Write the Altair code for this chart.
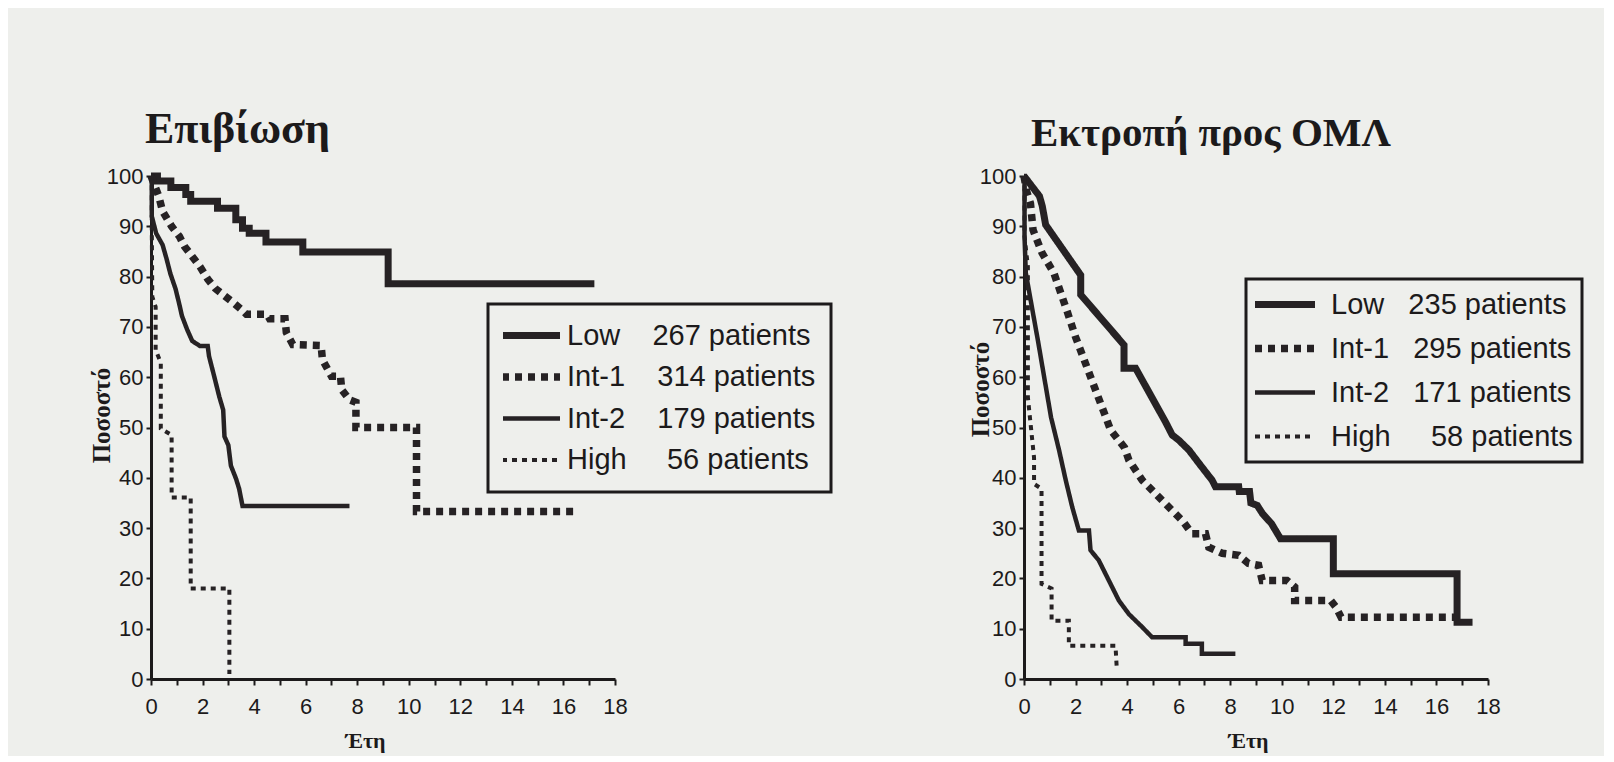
import altair as alt
import pandas as pd

SERIES = ["Low", "Int-1", "Int-2", "High"]

# ---------------- Επιβίωση (survival) ----------------
surv_titles = ["Επιβίωση"]
surv_counts = [267, 314, 179, 56]
surv_low_t = [0, 0.25, 0.25, 0.77, 0.77, 1.35, 1.35, 1.54, 1.54, 2.58, 2.58, 3.29, 3.29, 3.55, 3.55, 3.81, 3.81, 4.46, 4.46, 5.89, 5.89, 9.2, 9.2, 17.2]
surv_low_p = [100, 100, 99, 99, 97.7, 97.7, 96.3, 96.3, 95, 95, 93.6, 93.6, 91.3, 91.3, 89.6, 89.6, 88.6, 88.6, 86.9, 86.9, 84.9, 84.9, 78.6, 78.6]
surv_int1_t = [0, 0.15, 0.3, 0.45, 0.8, 1.1, 1.3, 1.6, 1.9, 2.2, 2.5, 2.9, 3.2, 3.5, 3.7, 4.5, 4.6, 5.2, 5.25, 5.5, 6.6, 6.65, 7.0, 7.35, 7.4, 7.7, 7.95, 7.95, 10.3, 10.3, 16.5]
surv_int1_p = [100, 98, 96, 93, 90, 88, 86, 84, 82, 79.5, 77.6, 76, 74.8, 73.5, 72.5, 72.5, 71.6, 71.6, 68.9, 66.5, 66.3, 63.5, 60.2, 60.2, 57.5, 55.5, 55, 50, 50, 33.3, 33.3]
surv_int2_t = [0, 0.03, 0.03, 0.2, 0.45, 0.6, 0.75, 0.95, 1.08, 1.2, 1.4, 1.6, 1.9, 2.2, 2.25, 2.45, 2.65, 2.8, 2.85, 3.0, 3.1, 3.3, 3.42, 3.55, 7.7]
surv_int2_p = [100, 100, 92, 88.6, 86.3, 83.6, 80.6, 77.6, 74.9, 72.2, 69.5, 67.2, 66.2, 66.2, 64.2, 60.2, 56.1, 53.5, 48.2, 46.5, 42.4, 39.8, 37.8, 34.4, 34.4]
surv_high_t = [0, 0.03, 0.03, 0.05, 0.18, 0.18, 0.38, 0.38, 0.8, 0.8, 1.54, 1.54, 3.04, 3.04]
surv_high_p = [100, 100, 90, 76, 74, 65.4, 62.9, 49.8, 48.5, 36.1, 36.1, 18, 18, 1]

# ---------------- Εκτροπή προς ΟΜΛ (transformation to AML) ----------------
aml_titles = ["Εκτροπή προς ΟΜΛ"]
aml_counts = [235, 295, 171, 58]
aml_low_t = [0, 0.3, 0.6, 0.71, 0.84, 2.2, 2.2, 3.88, 3.88, 4.33, 5.5, 5.75, 6.0, 6.4, 6.8, 7.3, 7.43, 8.33, 8.35, 8.75, 8.8, 9.05, 9.25, 9.6, 9.95, 12.0, 12.0, 16.8, 16.8, 17.4]
aml_low_p = [100, 98, 96, 94, 90.3, 80.3, 76.4, 66.4, 61.8, 61.8, 51, 48.5, 47.5, 45.5, 42.8, 39.5, 38.2, 38.2, 37.3, 37.3, 35, 34.5, 32.9, 30.9, 27.9, 27.9, 20.9, 20.9, 11.3, 11.3]
aml_int1_t = [0, 0.1, 0.25, 0.35, 0.7, 1.16, 1.68, 2.0, 2.58, 3.17, 3.36, 3.9, 4.07, 4.59, 5.36, 6.14, 6.52, 7.04, 7.17, 7.69, 8.33, 8.7, 9.1, 9.24, 10.2, 10.5, 10.5, 11.9, 12.1, 12.3, 16.9]
aml_int1_p = [100, 97, 94.6, 89.3, 84.7, 80.7, 73, 68, 60.1, 52.1, 49.5, 46, 43.5, 39.5, 35.5, 31.5, 28.9, 28.9, 26.2, 25, 24.6, 23, 22.6, 19.6, 19.6, 18.3, 15.6, 15.6, 14.3, 12.3, 12.3]
aml_int2_t = [0, 0.02, 0.02, 0.07, 0.55, 1.05, 1.36, 1.62, 1.87, 2.13, 2.52, 2.58, 2.9, 3.29, 3.68, 4.07, 4.59, 4.97, 6.27, 6.27, 6.9, 6.9, 8.2]
aml_int2_p = [100, 100, 88, 80.7, 67, 52, 45.5, 39.5, 34.2, 29.5, 29.5, 25.6, 23.6, 19.6, 15.6, 12.9, 10.3, 8.3, 8.3, 7.0, 7.0, 5.0, 5.0]
aml_high_t = [0, 0.02, 0.02, 0.15, 0.15, 0.27, 0.39, 0.39, 0.68, 0.68, 1.07, 1.07, 1.74, 1.74, 3.55, 3.6]
aml_high_p = [100, 100, 88, 82, 56, 50, 44, 38.8, 37.8, 18.9, 18, 11.6, 11.6, 6.6, 6.6, 2]

x_ticks = list(range(0, 19))
y_ticks = list(range(0, 101, 10))
x_title = "Έτη"
y_title = "Ποσοστό"

BG = "#eeefec"
INK = "#1c1a1b"
LINE = "#262224"
DASHES = [[1, 0], [7, 6], [1, 0], [5, 5]]
WIDTHS = [7, 7.5, 4.5, 4]
NBSP = "\u00a0"
FIG = "\u2007"


def frame(ts, ps):
    rows = []
    for name, t_list, p_list in zip(SERIES, ts, ps):
        for i, (t, p) in enumerate(zip(t_list, p_list)):
            rows.append({"group": name, "years": t, "pct": p, "k": i})
    return pd.DataFrame(rows)


def label_expr(counts, gaps):
    parts = []
    for name, c, g in zip(SERIES, counts, gaps):
        txt = name + NBSP * g + (FIG if c < 100 else "") + f"{c} patients"
        parts.append((name, txt))
    expr = "''"
    for name, txt in reversed(parts):
        expr = f"datum.label === '{name}' ? '{txt}' : ({expr})"
    return expr


def panel(df, title, title_dx, title_size, counts, gaps, leg, ytx, yty, xtx, xty):
    legend = alt.Legend(
        orient="none", legendX=leg["x"], legendY=leg["y"], title=None,
        labelExpr=label_expr(counts, gaps), symbolType="stroke",
        symbolSize=leg["sym"] ** 2, labelOffset=leg["off"], symbolOffset=leg["so"],
        clipHeight=33, rowPadding=leg["row"], padding=leg["pad"],
        fillColor=BG, strokeColor=INK,
        symbolStrokeColor=LINE, labelFont="Liberation Sans", labelFontSize=29,
        labelColor=INK, labelLimit=0,
    )
    return alt.Chart(
        df,
        title=alt.TitleParams(title, dx=title_dx, offset=-26, baseline="alphabetic",
                              fontSize=title_size),
    ).mark_line(color=LINE, strokeCap="butt", strokeJoin="miter").encode(
        x=alt.X("years:Q", scale=alt.Scale(domain=[0, 18], nice=False),
                axis=alt.Axis(values=x_ticks, title=x_title, titleX=xtx, titleY=xty,
                              titleBaseline="middle", titleAlign="center",
                              titleFontSize=22,
                              labelExpr="datum.value % 2 === 0 ? datum.label : ''",
                              tickSize=6, labelPadding=11)),
        y=alt.Y("pct:Q", scale=alt.Scale(domain=[0, 100], nice=False),
                axis=alt.Axis(values=y_ticks, title=y_title, titleX=ytx, titleY=yty,
                              titleBaseline="middle", titleAlign="center",
                              titleFontSize=25,
                              tickSize=5, labelPadding=3)),
        strokeDash=alt.StrokeDash("group:N", scale=alt.Scale(type="ordinal", domain=SERIES, range=DASHES), legend=legend),
        strokeWidth=alt.StrokeWidth("group:N", scale=alt.Scale(type="ordinal", domain=SERIES, range=WIDTHS), legend=legend),
        order=alt.Order("k:Q"),
    ).properties(width=464, height=503)


left = panel(
    frame([surv_low_t, surv_int1_t, surv_int2_t, surv_high_t],
          [surv_low_p, surv_int1_p, surv_int2_p, surv_high_p]),
    surv_titles[0], -6, 44, surv_counts, [4, 4, 4, 3],
    {"x": 337, "y": 128, "sym": 58, "off": 3, "so": -5, "row": 8.5, "pad": 15},
    -50, 239, 214, 61,
)
right = panel(
    frame([aml_low_t, aml_int1_t, aml_int2_t, aml_high_t],
          [aml_low_p, aml_int1_p, aml_int2_p, aml_high_p]),
    aml_titles[0], 7, 41, aml_counts, [3, 3, 3, 3],
    {"x": 222, "y": 103, "sym": 60, "off": 12, "so": -4, "row": 11, "pad": 9},
    -44, 213, 224, 61,
)

chart = alt.hconcat(left, right, spacing=409, bounds="flush").resolve_scale(
    strokeDash="independent", strokeWidth="independent"
).resolve_legend(
    strokeDash="independent", strokeWidth="independent"
).properties(
    background=BG,
    padding={"left": 81, "top": 100, "right": 20, "bottom": 5},
).configure_view(stroke=None).configure_axis(
    grid=False, domainColor=INK, domainWidth=3, tickColor=INK, tickWidth=2,
    labelFont="Liberation Sans", labelFontSize=22, labelColor=INK, labelFlush=False,
    labelOverlap=False, titleFont="Liberation Serif",
    titleFontWeight="bold", titleColor=INK,
).configure_title(
    font="Liberation Serif", fontWeight="bold", color=INK,
    anchor="start", frame="group",
).configure_legend(strokeWidth=3)

chart.save("out.html", embed_options={"renderer": "svg", "actions": False})
